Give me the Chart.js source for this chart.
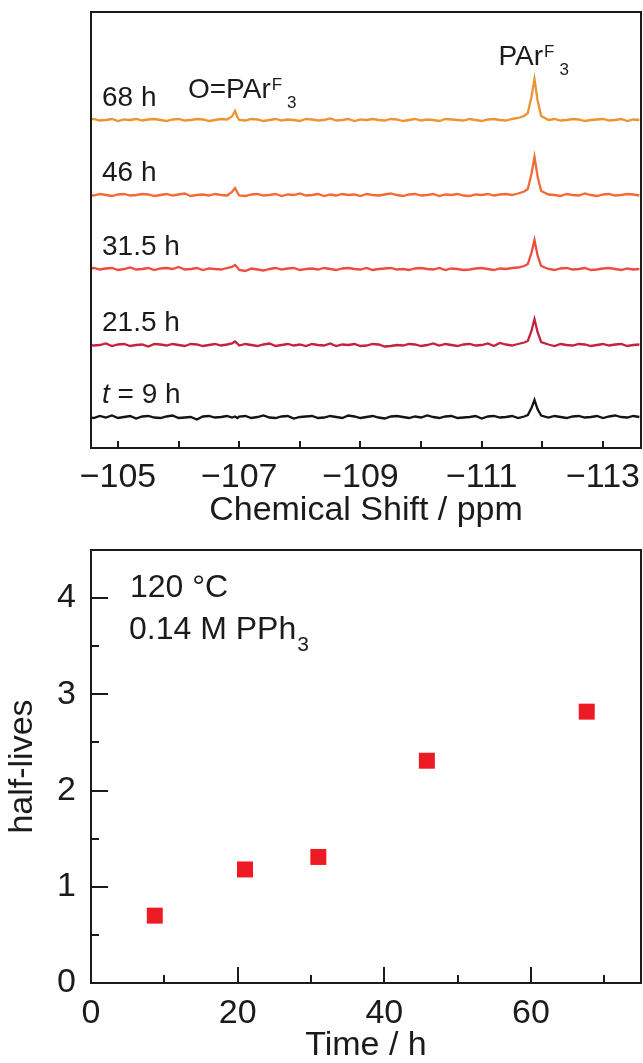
<!DOCTYPE html>
<html>
<head>
<meta charset="utf-8">
<script src="https://cdn.jsdelivr.net/npm/chart.js@4.4.0/dist/chart.umd.min.js"></script>
<style>
  html, body { margin: 0; padding: 0; background: #fff; overflow: hidden; }
  #wrap { position: relative; width: 643px; height: 1063px; }
  .pane { position: absolute; left: 0; width: 643px; }
  #top { top: 0; height: 540px; }
  #bottom { top: 530px; height: 533px; }
</style>
</head>
<body>
<div id="wrap">
  <div class="pane" id="top"><canvas id="nmrChart"></canvas></div>
  <div class="pane" id="bottom"><canvas id="halfChart"></canvas></div>
</div>
<script>
// ========== DATA ========== //
// chemical shift axis (ppm), shared by every spectrum
const ppm = [
  -104.5, -104.6, -104.7, -104.8, -104.9, -105.0, -105.1, -105.2, -105.3, -105.4, -105.5, -105.6,
  -105.7, -105.8, -105.9, -106.0, -106.1, -106.2, -106.3, -106.4, -106.5, -106.6, -106.7, -106.8,
  -106.88, -106.93, -106.97,
  -107.0, -107.1, -107.2, -107.3, -107.4, -107.5, -107.6, -107.7, -107.8, -107.9, -108.0, -108.1,
  -108.2, -108.3, -108.4, -108.5, -108.6, -108.7, -108.8, -108.9, -109.0, -109.1, -109.2, -109.3,
  -109.4, -109.5, -109.6, -109.7, -109.8, -109.9, -110.0, -110.1, -110.2, -110.3, -110.4, -110.5,
  -110.6, -110.7, -110.8, -110.9, -111.0, -111.1, -111.2, -111.3, -111.4, -111.5, -111.6, -111.7,
  -111.76, -111.82, -111.87, -111.92, -111.98,
  -112.1, -112.2, -112.3, -112.4, -112.5, -112.6, -112.7, -112.8, -112.9, -113.0, -113.1, -113.2,
  -113.3, -113.4, -113.5, -113.6
];

// intensities (arbitrary units, baseline = 0)
const int9h = [
  0.5, -1, 1, -0.5, 1.5, -1, 0, 1, -1.5, 0.5, 1, -0.5, -1, 0.5, 1.5, -1, -0.5, 0, -2.5, 0.5, 1, -0.5, 0, 1,
  -0.5, 0.5, -1,
  0.5, 1, -1, 0, 1.5, -0.5, -1, 0.5, 1, -1.5, 0, 0.5, 1, -1, -0.5, 1, 0, -1, 1.5, 0.5, -1, 0, 1, -0.5,
  -1.5, 0.5, 1, 0, -1, 0.5, -0.5, 1.5, 0, -1, 0.5, 1, -1, -0.5, 0, 1, -1.5, 0.5, 1, -0.5, 0, 1, -1, 0.5,
  2, 9, 17, 8, 1.5,
  -0.5, 1, 0, -1, 0.5, 1, -0.5, 0, 1, -1, 0.5, 1.5, 0, -0.5, 1, 0
];
const int21h = [
  1, -0.5, 0, 1.5, -1, 0.5, 1, -1, 0, 0.5, -1.5, 1, 0.5, -0.5, 1, 0, -1, 1, 0.5, -1, 0, 1, -0.5, 0.5,
  1.5, 3.5, 1.5,
  -0.5, 1, 0, -1, 0.5, 1.5, -1, 0, 1, -0.5, 0.5, -1, 1, 0, -0.5, 1.5, -1, 0.5, 0, 1, -1, -0.5, 1, 0.5,
  -1.5, -1, 0, -0.5, 1, 0.5, -1, 0, 1.5, -0.5, 1, 0, -1, 0.5, 1, -0.5, 0, 1.5, -1, 2, 0.5, -0.5, 1, 2.5,
  4, 14, 26, 13, 3,
  0.5, -1, 1, 0, -0.5, 1, 0.5, -1, 0, 1, -0.5, 0.5, 1, -1, 0, 0.5
];
const int31h = [
  0, 1, -0.5, 0.5, 1, -1, 0, 1.5, -0.5, 0, 1, -1, 0.5, 1, 0, 2, -0.5, 0, 1, -1, 0.5, 0, -0.5, 1,
  2, 4, 1.5,
  -1, -2, 0.5, -0.5, -1.5, 0, 1, -0.5, 0.5, 1, -1, 0, 0.5, -0.5, 1, 0, -1, 0.5, 1, 0, -0.5, 1, -1, 0,
  0.5, 1, -0.5, 0, -1, 0.5, 1, 0, -0.5, 1, -1, 0.5, 0, -1, -0.5, 0.5, 1, 0, -1, 0.5, 0, 1, 1.5, 3,
  5, 16, 29, 14, 3,
  0, -1, 0.5, 1, -0.5, 0, 1, -1, -0.5, 0.5, 1, 0, -1, 0.5, -0.5, 0
];
const int46h = [
  0.5, -0.5, 1, 0, -1, 0.5, 1, -0.5, 0, 1, 0.5, -1, 0, 1, -0.5, 0.5, 1.5, -1, 0, 0.5, -0.5, 1, 0, -0.5,
  3, 7, 2.5,
  -0.5, -1, 0.5, 1, -0.5, 0, 1, -1, 0.5, 0, 1.5, -0.5, 0, 1, -1, 0.5, -0.5, 1, 0, 0.5, -1, 1, 0, -0.5,
  0.5, 1.5, 0, -1, 0.5, 1, -0.5, 0, 1, -1, 0.5, 0, 1, -0.5, -1, 0.5, 0, 1, -0.5, 0.5, 1, 0, 1.5, 3.5,
  6, 21, 38, 19, 4,
  0.5, 0, -1, 1, 0, -0.5, 1.5, 0, -1, 0.5, 1, -0.5, 0, 1, 0.5, -0.5
];
const int68h = [
  0, 1, -0.5, 0, 1, -1, 0.5, 0, 1, -0.5, 0.5, 1, 0, -1, 0.5, 1, -0.5, 0, 1, 0.5, -1, 0, 1, 0.5,
  3.5, 9, 3,
  0, -0.5, 1, 0.5, -1, 0, 1, -0.5, 0.5, 0, -1, 1, 0.5, -0.5, 0, 1.5, -0.5, 0, 1, -1, 0.5, 0, 1, 0,
  -0.5, 1, 0.5, -1, 0, 1, -0.5, 0.5, 0, -1, 1, 0.5, 0, -0.5, 1, 0, -1, 0.5, 1, 0, -0.5, 1, 2, 4,
  7, 23, 41, 20, 4,
  0, 1, -0.5, 0, 1, 0.5, -1, 0, 0.5, 1, -0.5, 0, 1, -1, 0.5, 0
];

const traceLabels = ['t = 9 h', '21.5 h', '31.5 h', '46 h', '68 h'];
const traceOffset = [0, 72, 148, 222, 297];
const traceColors = ['#141414', '#C4243B', '#EF4B3F', '#F46A37', '#EC9332'];
const spectra = [int9h, int21h, int31h, int46h, int68h];

// peak assignments (ppm)
const peakPpm = [-106.93, -111.87];
const peakNames = ['O=PAr', 'PAr'];

// half-lives vs time
const timeH = [8.7, 21, 31, 45.8, 67.6];
const halfLives = [0.70, 1.18, 1.31, 2.31, 2.82];

// ========== STYLE ========== //
const FONT = '"Liberation Sans", Arial, Helvetica, sans-serif';
const INK = '#1b1b1b';
Chart.defaults.font.family = FONT;
Chart.defaults.color = INK;

// keep chart areas exactly where the reference has them
function fixHeight(h) {
    return s => { s.height = h; s.paddingLeft = 0; s.paddingRight = 0; };
}
function fixWidth(w) {
    return s => { s.width = w; s.paddingTop = 0; s.paddingBottom = 0; };
}

// frame + inward tick marks
const framePlugin = {
    id: 'frame',
    afterDraw(chart, args, opts) {
        const { ctx, chartArea: a } = chart;
        ctx.save();
        ctx.strokeStyle = INK;
        ctx.lineWidth = 2;
        ctx.beginPath();
        ['x', 'y'].forEach(id => {
            const sc = chart.scales[id];
            const every = opts[id + 'Every'];
            const lens = opts[id + 'Len'];
            if (!sc || !every) return;
            sc.ticks.forEach(t => {
                const r = t.value / every;
                const len = Math.abs(r - Math.round(r)) < 1e-6 ? lens[0] : lens[1];
                const p = Math.round(sc.getPixelForValue(t.value));
                if (id === 'x') { ctx.moveTo(p, a.bottom); ctx.lineTo(p, a.bottom - len); }
                else { ctx.moveTo(a.left, p); ctx.lineTo(a.left + len, p); }
            });
        });
        ctx.stroke();
        ctx.strokeRect(a.left, a.top, a.right - a.left, a.bottom - a.top);
        ctx.restore();
    }
};

// "PAr" with superscript F and subscript 3
function drawChem(ctx, main, x, y, size) {
    ctx.font = size + 'px ' + FONT;
    ctx.fillText(main, x, y);
    const w = ctx.measureText(main).width;
    const small = Math.round(size * 0.6);
    ctx.font = small + 'px ' + FONT;
    ctx.fillText('F', x + w + 1, y - 8);
    const fw = ctx.measureText('F').width;
    ctx.fillText('3', x + w + fw + 6, y + 10);
}

const nmrLabels = {
    id: 'nmrLabels',
    afterDraw(chart) {
        const { ctx, scales: { x, y } } = chart;
        ctx.save();
        ctx.fillStyle = INK;
        ctx.textBaseline = 'alphabetic';
        traceLabels.forEach((lab, k) => {
            const by = y.getPixelForValue(traceOffset[k]) - 14;
            let tx = 102;
            if (lab.startsWith('t ')) {
                ctx.font = 'italic 28px ' + FONT;
                ctx.fillText('t', tx, by);
                tx += ctx.measureText('t').width;
                lab = lab.slice(1);
            }
            ctx.font = '28px ' + FONT;
            ctx.fillText(lab, tx, by);
        });
        const top = y.getPixelForValue(traceOffset[4]);
        drawChem(ctx, peakNames[0], x.getPixelForValue(peakPpm[0]) - 47, top - 22, 28);
        drawChem(ctx, peakNames[1], x.getPixelForValue(peakPpm[1]) - 36, top - 55, 28);
        ctx.restore();
    }
};

const halfLabels = {
    id: 'halfLabels',
    afterDraw(chart) {
        const { ctx, chartArea: a } = chart;
        ctx.save();
        ctx.fillStyle = INK;
        ctx.font = '32px ' + FONT;
        ctx.fillText('120 °C', a.left + 39, a.top + 47);
        ctx.fillText('0.14 M PPh', a.left + 38, a.top + 89);
        const w = ctx.measureText('0.14 M PPh').width;
        ctx.font = '21px ' + FONT;
        ctx.fillText('3', a.left + 39 + w, a.top + 101);
        ctx.restore();
    }
};

// ========== NMR SPECTRA ========== //
new Chart(document.getElementById('nmrChart'), {
    type: 'line',
    data: {
        datasets: spectra.map((arr, k) => ({
            label: traceLabels[k],
            data: ppm.map((v, i) => ({ x: v, y: arr[i] + traceOffset[k] })),
            borderColor: traceColors[k],
            borderWidth: 2.3,
            pointRadius: 0,
            tension: 0
        }))
    },
    options: {
        responsive: true,
        maintainAspectRatio: false,
        devicePixelRatio: 1,
        animation: false,
        layout: { autoPadding: false, padding: { left: 91, right: 2, top: 12, bottom: 0 } },
        plugins: {
            legend: { display: false },
            tooltip: { enabled: false },
            frame: { xEvery: 1, xLen: [7, 7] }
        },
        scales: {
            x: {
                type: 'linear',
                reverse: true,
                min: -113.627,
                max: -104.555,
                grid: { display: false, drawTicks: false },
                border: { display: false },
                afterFit: fixHeight(92),
                ticks: {
                    stepSize: 1,
                    includeBounds: false,
                    autoSkip: false,
                    maxRotation: 0,
                    padding: 9,
                    font: { size: 34 },
                    callback: v => {
                        const r = Math.round(v);
                        return r % 2 !== 0 ? '\u2212' + Math.abs(r) : '';
                    }
                },
                title: {
                    display: true,
                    text: 'Chemical Shift / ppm',
                    font: { size: 34, lineHeight: 1 },
                    padding: { top: 0, bottom: 12 }
                }
            },
            y: { display: false, min: -31, max: 405 }
        }
    },
    plugins: [framePlugin, nmrLabels]
});

// ========== HALF-LIVES ========== //
new Chart(document.getElementById('halfChart'), {
    type: 'scatter',
    data: {
        datasets: [{
            data: timeH.map((t, i) => ({ x: t, y: halfLives[i] })),
            pointStyle: 'rect',
            pointRadius: 11.3,
            backgroundColor: '#ED1C24',
            borderWidth: 0
        }]
    },
    options: {
        responsive: true,
        maintainAspectRatio: false,
        devicePixelRatio: 1,
        animation: false,
        layout: { autoPadding: false, padding: { left: 0, right: 2, top: 20, bottom: 0 } },
        plugins: {
            legend: { display: false },
            tooltip: { enabled: false },
            frame: { xEvery: 20, xLen: [16, 8], yEvery: 1, yLen: [17, 8] }
        },
        scales: {
            x: {
                min: 0,
                max: 75,
                grid: { display: false, drawTicks: false },
                border: { display: false },
                afterFit: fixHeight(80),
                ticks: {
                    stepSize: 10,
                    includeBounds: false,
                    autoSkip: false,
                    maxRotation: 0,
                    padding: 10,
                    font: { size: 34 },
                    callback: v => (v % 20 === 0 ? v : '')
                },
                title: {
                    display: true,
                    text: 'Time / h',
                    font: { size: 34, lineHeight: 1 },
                    padding: { top: 0, bottom: 0 }
                }
            },
            y: {
                min: 0,
                max: 4.5,
                grid: { display: false, drawTicks: false },
                border: { display: false },
                afterFit: fixWidth(91),
                ticks: {
                    stepSize: 0.5,
                    autoSkip: false,
                    padding: 15,
                    font: { size: 34 },
                    callback: v => (Number.isInteger(v) ? v : '')
                },
                title: {
                    display: true,
                    text: 'half-lives',
                    font: { size: 34, lineHeight: 1 },
                    padding: { top: 6, bottom: 0 }
                }
            }
        }
    },
    plugins: [framePlugin, halfLabels]
});
</script>
</body>
</html>
